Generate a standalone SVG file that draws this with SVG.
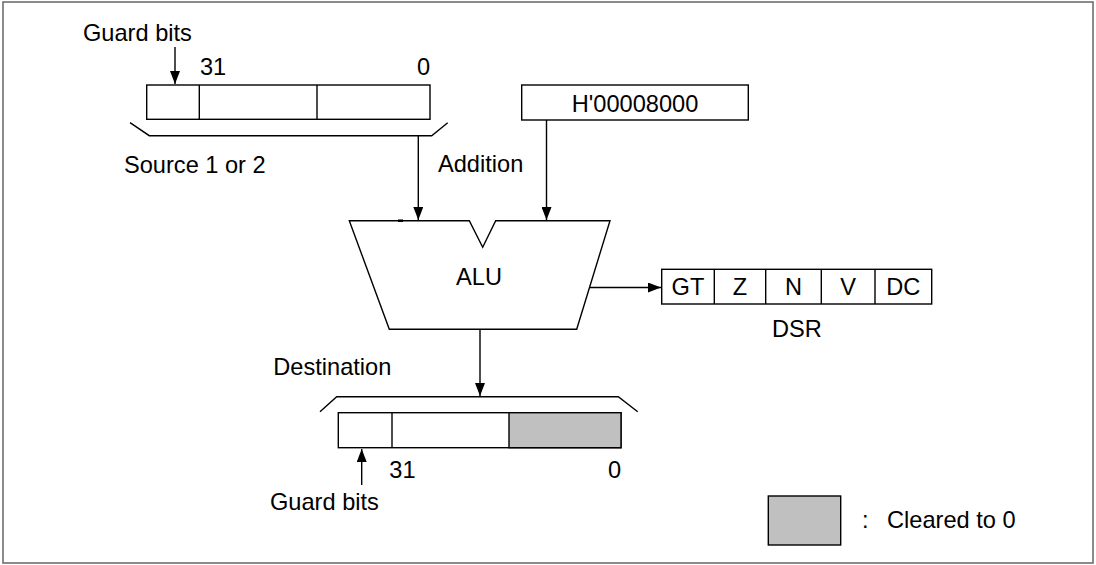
<svg xmlns="http://www.w3.org/2000/svg" width="1096" height="565" viewBox="0 0 1096 565">
<defs>
<marker id="ah" markerWidth="13" markerHeight="10" refX="13" refY="5" orient="auto" markerUnits="userSpaceOnUse" viewBox="0 0 13 10">
<path d="M0,0 L13,5 L0,10 Z" fill="#000"/>
</marker>
<style>
text{font-family:"Liberation Sans",Arial,sans-serif;font-size:23.6px;fill:#000}
.b{fill:#fff;stroke:#000;stroke-width:1.4}
.l{fill:none;stroke:#000;stroke-width:1.4}
.g{fill:#c0c0c0;stroke:#000;stroke-width:1.4}
.c{text-anchor:middle}
.e{text-anchor:end}
</style>
</defs>
<rect x="3" y="2" width="1090" height="561" fill="#fff" stroke="#666" stroke-width="1.5"/>

<g id="source">
<text x="83" y="41">Guard bits</text>
<text x="200" y="75">31</text>
<text x="430" y="75" class="e">0</text>
<rect class="b" x="146.7" y="85" width="283.3" height="34.3"/>
<line class="l" x1="199.3" y1="85" x2="199.3" y2="119.3"/>
<line class="l" x1="317" y1="85" x2="317" y2="119.3"/>
<polyline class="l" points="130,122.7 149.3,135.7 431.7,135.7 447.7,122.7"/>
<text x="124" y="173">Source 1 or 2</text>
</g>

<g id="constant">
<rect class="b" x="521.7" y="85" width="226.6" height="35"/>
<text x="635" y="111.7" class="c">H'00008000</text>
</g>

<g id="addition-label">
<text x="438" y="172">Addition</text>
</g>

<g id="alu">
<polygon class="b" points="349.3,220.7 469.3,220.7 482.7,247.3 495.7,220.7 610,220.7 576.7,329.3 389.3,329.3"/>
<line x1="398" y1="220.7" x2="403" y2="220.7" stroke="#000" stroke-width="2.5"/>
<text x="479" y="285" class="c">ALU</text>
</g>

<g id="dsr">
<rect class="b" x="661.7" y="269.3" width="270" height="34.7"/>
<line class="l" x1="714.3" y1="269.3" x2="714.3" y2="304"/>
<line class="l" x1="765.7" y1="269.3" x2="765.7" y2="304"/>
<line class="l" x1="821.3" y1="269.3" x2="821.3" y2="304"/>
<line class="l" x1="875" y1="269.3" x2="875" y2="304"/>
<text x="688" y="295" class="c">GT</text>
<text x="740" y="295" class="c">Z</text>
<text x="793.5" y="295" class="c">N</text>
<text x="848" y="295" class="c">V</text>
<text x="903.3" y="295" class="c">DC</text>
<text x="797" y="337" class="c">DSR</text>
</g>

<g id="destination">
<text x="273.3" y="375">Destination</text>
<polyline class="l" points="320,411.7 336.7,396.7 618.3,396.7 637.7,411.7"/>
<rect class="b" x="338.3" y="412.7" width="282.7" height="35"/>
<rect class="g" x="509" y="412.7" width="112" height="35"/>
<line class="l" x1="392" y1="412.7" x2="392" y2="447.7"/>
<text x="389.3" y="478">31</text>
<text x="621" y="478" class="e">0</text>
<text x="270" y="510">Guard bits</text>
</g>

<g id="legend">
<rect class="g" x="768.3" y="496" width="72.4" height="49"/>
<text x="862" y="528">:</text>
<text x="887" y="528">Cleared to 0</text>
</g>

<g id="connectors">
<line class="l" x1="175" y1="47" x2="175" y2="84" marker-end="url(#ah)"/>
<line class="l" x1="418.3" y1="135.7" x2="418.3" y2="220" marker-end="url(#ah)"/>
<line class="l" x1="546.5" y1="120" x2="546.5" y2="220" marker-end="url(#ah)"/>
<line class="l" x1="590" y1="287.5" x2="661" y2="287.5" marker-end="url(#ah)"/>
<line class="l" x1="480" y1="329.3" x2="480" y2="396" marker-end="url(#ah)"/>
<line class="l" x1="361.7" y1="485" x2="361.7" y2="449" marker-end="url(#ah)"/>
</g>
</svg>
